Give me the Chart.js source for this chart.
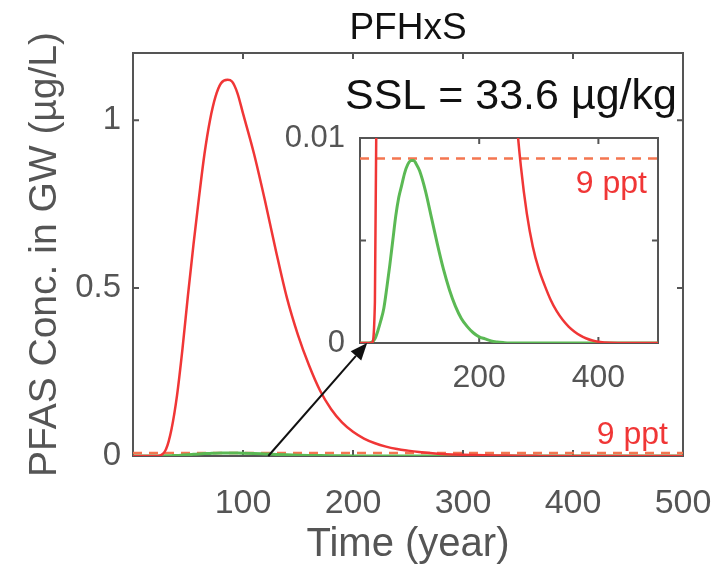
<!DOCTYPE html>
<html>
<head>
<meta charset="utf-8">
<script src="https://cdn.jsdelivr.net/npm/chart.js@4.4.1/dist/chart.umd.min.js"></script>
<style>
  body { margin: 0; background: #fff; }
  #wrap { position: relative; width: 716px; height: 571px; }
  #main { position: absolute; left: 0; top: 0; }
  #inset { position: absolute; left: 250px; top: 110px; }
</style>
</head>
<body>
<div id="wrap">
  <canvas id="main" width="716" height="571"></canvas>
  <canvas id="inset" width="450" height="360"></canvas>
</div>
<script>
// time (year)
const years = [0, 10, 20, 25, 30, 35, 40, 45, 50, 55, 60, 65, 70, 75, 80, 86, 90, 95, 100,
  110, 120, 130, 140, 150, 160, 170, 180, 190, 200, 210, 220, 230, 240, 250, 260, 270, 280,
  290, 300, 310, 320, 330, 340, 350, 360, 370, 380, 390, 400, 420, 450, 500];
// concentration in GW (ug/L)
const redConc = [0, 0, 0, 0.002, 0.02, 0.08, 0.18, 0.32, 0.48, 0.63, 0.77, 0.9, 1.0, 1.07, 1.11, 1.12, 1.115, 1.08, 1.02,
  0.9, 0.76, 0.61, 0.47, 0.36, 0.27, 0.195, 0.14, 0.1, 0.072, 0.052, 0.038, 0.028, 0.021, 0.016, 0.0118, 0.0086, 0.0063,
  0.0047, 0.0036, 0.0028, 0.0021, 0.00155, 0.00113, 0.0008, 0.00055, 0.00036, 0.00022, 0.00012, 0.00006, 0.00001, 0, 0];
const greenConc = [0, 0, 0.00005, 0.0002, 0.0006, 0.0011, 0.0017, 0.0027, 0.0038, 0.005, 0.0062, 0.0071, 0.0077, 0.0083, 0.0087, 0.0089, 0.0089, 0.0087, 0.0084,
  0.0074, 0.0061, 0.0048, 0.0036, 0.0026, 0.0018, 0.0012, 0.0008, 0.0005, 0.0003, 0.0002, 0.0001, 0.00005, 0.00002, 0, 0, 0, 0,
  0, 0, 0, 0, 0, 0, 0, 0, 0, 0, 0, 0, 0, 0, 0];
const limit9ppt = 0.009;
const limitX = [0, 500];

const mainXTicks = [100, 200, 300, 400, 500];
const mainYTicks = [0, 0.5, 1];
const insetXTicks = [200, 400];
const insetYTicks = [0, 0.005, 0.01];
const insetYLabels = ['0', '', '0.01'];

const arrowFrom = [123, 0];   // main chart coords
const arrowTo = [12, 0];      // inset chart coords

const FONT = "'Liberation Sans', Arial, Helvetica, sans-serif";
const AXIS = '#555555';
const RED = '#f03636';
const GREEN = '#5bb954';
const DASH = '#f47650';

function points(xs, ys) {
  return xs.map((x, i) => ({ x: x, y: ys[i] }));
}

function makeDatasets() {
  return [
    { data: points(years, redConc), borderColor: RED, borderWidth: 2.5, pointRadius: 0, cubicInterpolationMode: 'monotone' },
    { data: points(years, greenConc), borderColor: GREEN, borderWidth: 3, pointRadius: 0, cubicInterpolationMode: 'monotone' },
    { data: points(limitX, [limit9ppt, limit9ppt]), borderColor: DASH, borderWidth: 2.5, borderDash: [9, 7], pointRadius: 0 }
  ];
}

// no extra room for tick labels, the plot boxes are placed by layout padding
const noPadX = s => { s.paddingLeft = 0; s.paddingRight = 0; };
const noPadY = s => { s.paddingTop = 0; s.paddingBottom = 0; };

// box + inward ticks on all four sides
const boxPlugin = {
  id: 'box',
  beforeDatasetsDraw(chart) {
    const { ctx, chartArea: a, scales: { x, y } } = chart;
    ctx.save();
    ctx.strokeStyle = AXIS;
    ctx.lineWidth = 2;
    ctx.beginPath();
    x.ticks.forEach(t => {
      const px = x.getPixelForValue(t.value);
      ctx.moveTo(px, a.bottom); ctx.lineTo(px, a.bottom - 6);
      ctx.moveTo(px, a.top); ctx.lineTo(px, a.top + 6);
    });
    y.ticks.forEach(t => {
      const py = y.getPixelForValue(t.value);
      ctx.moveTo(a.left, py); ctx.lineTo(a.left + 6, py);
      ctx.moveTo(a.right, py); ctx.lineTo(a.right - 6, py);
    });
    ctx.stroke();
    ctx.strokeRect(a.left, a.top, a.right - a.left, a.bottom - a.top);
    ctx.restore();
  }
};

const mainText = {
  id: 'mainText',
  afterDraw(chart) {
    const { ctx, chartArea: a, scales: { y } } = chart;
    ctx.save();
    ctx.fillStyle = '#111';
    ctx.font = '37px ' + FONT;
    ctx.textAlign = 'center';
    ctx.textBaseline = 'middle';
    ctx.fillText('PFHxS', (a.left + a.right) / 2, a.top - 24);
    ctx.font = '43px ' + FONT;
    ctx.textAlign = 'left';
    ctx.fillText('SSL = 33.6 µg/kg', 345, a.top + 44);
    ctx.fillStyle = RED;
    ctx.font = '32px ' + FONT;
    ctx.textAlign = 'right';
    ctx.fillText('9 ppt', a.right - 15, y.getPixelForValue(limit9ppt) - 18);
    ctx.restore();
  }
};

const mainChart = new Chart(document.getElementById('main'), {
  type: 'line',
  data: { datasets: makeDatasets() },
  plugins: [boxPlugin, mainText],
  options: {
    responsive: false,
    animation: false,
    layout: { padding: { left: 0, right: 33, top: 53, bottom: 0 } },
    plugins: { legend: { display: false }, tooltip: { enabled: false } },
    scales: {
      x: {
        type: 'linear', min: 0, max: 500,
        afterFit: s => { s.height = 115; noPadX(s); },
        afterBuildTicks: s => { s.ticks = mainXTicks.map(v => ({ value: v })); },
        grid: { display: false, drawTicks: false }, border: { display: false },
        ticks: { font: { size: 34, family: FONT }, color: AXIS, padding: 27, maxRotation: 0 },
        title: { display: true, text: 'Time (year)', font: { size: 40, family: FONT }, color: AXIS, padding: { bottom: 2 } }
      },
      y: {
        type: 'linear', min: 0, max: 1.2,
        afterFit: s => { s.width = 133; noPadY(s); },
        afterBuildTicks: s => { s.ticks = mainYTicks.map(v => ({ value: v })); },
        grid: { display: false, drawTicks: false }, border: { display: false },
        ticks: { font: { size: 33, family: FONT }, color: AXIS, padding: 12, callback: v => String(v) },
        title: { display: true, text: 'PFAS Conc. in GW (µg/L)', font: { size: 39, family: FONT }, color: AXIS, padding: { top: 22 } }
      }
    }
  }
});

const insetExtras = {
  id: 'insetExtras',
  beforeDraw(chart) {
    const { ctx, chartArea: a } = chart;
    ctx.save();
    ctx.fillStyle = '#fff';
    ctx.fillRect(a.left, a.top, a.right - a.left, a.bottom - a.top);
    ctx.restore();
  },
  afterDraw(chart) {
    const { ctx, chartArea: a, scales: { x, y } } = chart;
    const cv = chart.canvas;
    ctx.save();
    ctx.fillStyle = RED;
    ctx.font = '32px ' + FONT;
    ctx.textAlign = 'right';
    ctx.textBaseline = 'middle';
    ctx.fillText('9 ppt', a.right - 11, y.getPixelForValue(limit9ppt) + 26);

    // arrow from main chart to inset origin
    const x0 = mainChart.scales.x.getPixelForValue(arrowFrom[0]) - cv.offsetLeft;
    const y0 = mainChart.scales.y.getPixelForValue(arrowFrom[1]) - cv.offsetTop;
    const x1 = x.getPixelForValue(arrowTo[0]);
    const y1 = y.getPixelForValue(arrowTo[1]);
    const ang = Math.atan2(y1 - y0, x1 - x0);
    const len = 17, half = 7;
    const bx = x1 - len * Math.cos(ang), by = y1 - len * Math.sin(ang);
    ctx.strokeStyle = '#111';
    ctx.fillStyle = '#111';
    ctx.lineWidth = 2;
    ctx.beginPath();
    ctx.moveTo(x0, y0); ctx.lineTo(bx, by);
    ctx.stroke();
    ctx.beginPath();
    ctx.moveTo(x1, y1);
    ctx.lineTo(bx + half * Math.sin(ang), by - half * Math.cos(ang));
    ctx.lineTo(bx - half * Math.sin(ang), by + half * Math.cos(ang));
    ctx.closePath();
    ctx.fill();
    ctx.restore();
  }
};

new Chart(document.getElementById('inset'), {
  type: 'line',
  data: { datasets: makeDatasets() },
  plugins: [insetExtras, boxPlugin],
  options: {
    responsive: false,
    animation: false,
    layout: { padding: { left: 0, right: 42, top: 28, bottom: 67 } },
    plugins: { legend: { display: false }, tooltip: { enabled: false } },
    scales: {
      x: {
        type: 'linear', min: 0, max: 500,
        afterFit: s => { s.height = 60; noPadX(s); },
        afterBuildTicks: s => { s.ticks = insetXTicks.map(v => ({ value: v })); },
        grid: { display: false, drawTicks: false }, border: { display: false },
        ticks: { font: { size: 32, family: FONT }, color: AXIS, padding: 16, maxRotation: 0 }
      },
      y: {
        type: 'linear', min: 0, max: 0.01,
        afterFit: s => { s.width = 110; noPadY(s); },
        afterBuildTicks: s => { s.ticks = insetYTicks.map(v => ({ value: v })); },
        grid: { display: false, drawTicks: false }, border: { display: false },
        ticks: { font: { size: 31, family: FONT }, color: AXIS, padding: 15,
          callback: (v, i) => insetYLabels[i] }
      }
    }
  }
});
</script>
</body>
</html>
